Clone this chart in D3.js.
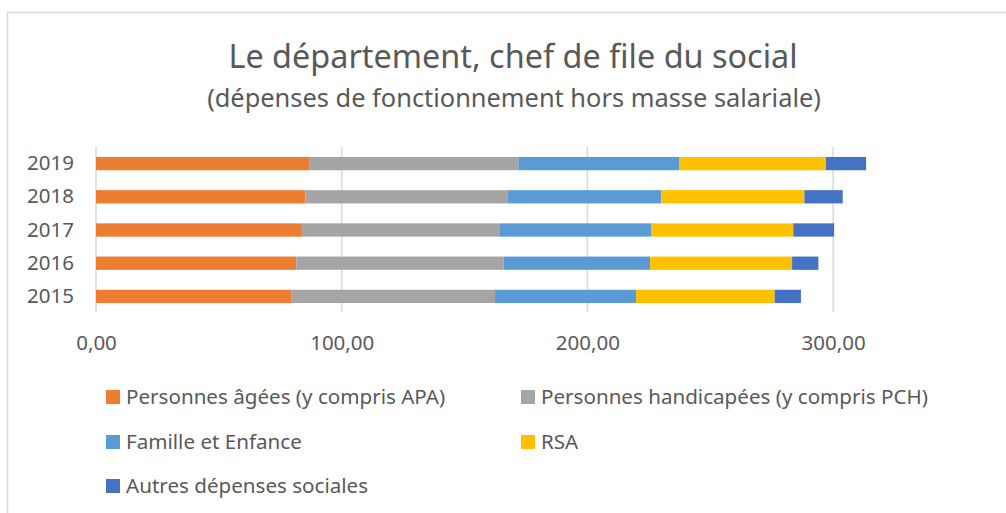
<!DOCTYPE html>
<html>
<head>
<meta charset="utf-8">
<script src="https://cdn.jsdelivr.net/npm/d3@7"></script>
<style>
  html, body { margin: 0; padding: 0; background: #fff; }
  svg text { font-family: "Noto Sans", "Open Sans", sans-serif; fill: #595959; }
</style>
</head>
<body>
<svg id="chart" width="1006" height="513"></svg>
<script>
// ── Data ──────────────────────────────────────────────────────────────────
const years = ["2019", "2018", "2017", "2016", "2015"];
const seriesNames = [
  "Personnes âgées (y compris APA)",
  "Personnes handicapées (y compris PCH)",
  "Famille et Enfance",
  "RSA",
  "Autres dépenses sociales",
];
// values per year, same order as years
const personnesAgees = [87.0, 85.2, 83.8, 81.5, 79.4];
const personnesHandicapees = [84.9, 82.5, 80.6, 84.4, 83.0];
const familleEnfance = [65.4, 62.3, 61.5, 59.6, 57.4];
const rsa = [59.8, 58.3, 57.9, 57.8, 56.4];
const autres = [16.3, 15.6, 16.6, 10.7, 10.7];
const xTicks = [0, 100, 200, 300];

const COLORS = ["#ED7D31", "#A5A5A5", "#5B9BD5", "#FFC000", "#4472C4"];

// ── Build table for d3.stack ───────────────────────────────────────────────
const seriesValues = [personnesAgees, personnesHandicapees, familleEnfance, rsa, autres];
const rows = years.map((y, i) => {
  const r = { year: y };
  seriesNames.forEach((name, k) => (r[name] = seriesValues[k][i]));
  return r;
});
const stacked = d3.stack().keys(seriesNames)(rows);

const svg = d3.select("#chart");

// chart frame (only top/left edges visible in the picture)
svg.append("line").attr("x1", 7.5).attr("x2", 1006).attr("y1", 12.5).attr("y2", 12.5)
  .attr("stroke", "#d9d9d9").attr("stroke-width", 1.5);
svg.append("line").attr("x1", 7.5).attr("x2", 7.5).attr("y1", 12).attr("y2", 513)
  .attr("stroke", "#d9d9d9").attr("stroke-width", 1.5);

// ── Titles ─────────────────────────────────────────────────────────────────
svg.append("text").attr("x", 513).attr("y", 68).attr("text-anchor", "middle")
  .style("font-size", "32.4px").text("Le département, chef de file du social");
svg.append("text").attr("x", 514).attr("y", 107).attr("text-anchor", "middle")
  .style("font-size", "25.4px").text("(dépenses de fonctionnement hors masse salariale)");

// ── Scales ─────────────────────────────────────────────────────────────────
const x = d3.scaleLinear().domain([0, 350]).range([96, 956]);
const y = d3.scaleBand().domain(years).range([147, 313]).paddingInner(0.6).paddingOuter(0.3);

// gridlines
svg.append("g").selectAll("line").data(xTicks).join("line")
  .attr("x1", (d) => x(d)).attr("x2", (d) => x(d))
  .attr("y1", 147).attr("y2", 312)
  .attr("stroke", "#d9d9d9").attr("stroke-width", 1.5);

// bars
svg.append("g").selectAll("g").data(stacked).join("g")
  .attr("fill", (d, i) => COLORS[i])
  .selectAll("rect").data((d) => d).join("rect")
  .attr("x", (d) => x(d[0]))
  .attr("width", (d) => x(d[1]) - x(d[0]))
  .attr("y", (d) => y(d.data.year))
  .attr("height", y.bandwidth());

// x axis labels
const fmt = (v) => d3.format(".2f")(v).replace(".", ",");
const xAxis = svg.append("g").attr("transform", "translate(0,332)")
  .call(d3.axisBottom(x).tickValues(xTicks).tickFormat(fmt).tickSize(0));
xAxis.select(".domain").remove();
xAxis.selectAll("text").style("font-size", "20.5px").attr("fill", "#595959");

// y axis labels
const yAxis = svg.append("g").attr("transform", "translate(74,0)")
  .call(d3.axisLeft(y).tickSize(0).tickPadding(0));
yAxis.select(".domain").remove();
yAxis.selectAll("text").style("font-size", "20.5px").attr("fill", "#595959");

// ── Legend ────────────────────────────────────────────────────────────────
const legendCols = [106, 521];
const legendRows = [397, 442, 486];
const legend = svg.append("g").selectAll("g").data(seriesNames).join("g")
  .attr("transform", (d, i) => `translate(${legendCols[i % 2]},${legendRows[Math.floor(i / 2)]})`);
legend.append("rect").attr("x", 0).attr("y", -7).attr("width", 14).attr("height", 14)
  .attr("fill", (d, i) => COLORS[i]);
legend.append("text").attr("x", 20).attr("y", 0).attr("dy", "0.35em")
  .style("font-size", "20.6px").text((d) => d);
</script>
</body>
</html>
